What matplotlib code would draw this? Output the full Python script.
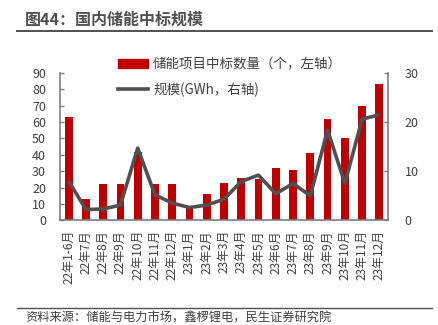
import matplotlib
matplotlib.use("Agg")
import matplotlib.pyplot as plt
from matplotlib.lines import Line2D

plt.rcParams['font.family'] = ['Noto Sans CJK SC', 'DejaVu Sans']

categories = ["22年1-6月", "22年7月", "22年8月", "22年9月", "22年10月", "22年11月", "22年12月",
              "23年1月", "23年2月", "23年3月", "23年4月", "23年5月", "23年6月", "23年7月",
              "23年8月", "23年9月", "23年10月", "23年11月", "23年12月"]
bid_count = [63, 13, 22, 22, 42, 22, 22, 9, 16, 23, 26, 25, 32, 31, 41, 62, 50, 70, 83]
scale_gwh = [8.0, 2.2, 2.3, 3.1, 14.7, 5.2, 3.5, 2.6, 3.1, 4.3, 7.9, 9.2, 5.4, 7.5, 5.0, 18.4, 7.5, 20.6, 21.5]
left_ticks = [0, 10, 20, 30, 40, 50, 60, 70, 80, 90]
right_ticks = [0, 10, 20, 30]

W, H = 439, 325
fig = plt.figure(figsize=(W / 100, H / 100), dpi=100)
fig.patch.set_facecolor('white')

ax = fig.add_axes([60 / W, 1 - 220.3 / H, 328 / W, (220.3 - 73) / H])
ax2 = ax.twinx()

x = list(range(len(categories)))
bar_color = '#C00000'
line_color = '#505050'
spine_color = '#7f7f7f'
text_color = '#404040'

ax.bar(x, bid_count, width=0.45, color=bar_color, zorder=2)
ax2.plot(x, scale_gwh, color=line_color, lw=2.6, solid_capstyle='butt', zorder=3)

ax.set_xlim(-0.5, len(categories) - 0.5)
ax.set_ylim(0, 90)
ax2.set_ylim(0, 30)
ax.set_yticks(left_ticks)
ax2.set_yticks(right_ticks)
ax.set_xticks(x)
ax.set_xticklabels(categories, rotation=90, fontsize=8.6, color=text_color)
ax.tick_params(axis='x', length=0, pad=7)
ax.tick_params(axis='y', direction='in', length=3, width=1, color=spine_color,
               labelsize=9, labelcolor=text_color, pad=10)
ax2.tick_params(axis='y', direction='in', length=3, width=1, color=spine_color,
                labelsize=9, labelcolor=text_color, pad=12)

for a in (ax, ax2):
    a.spines['top'].set_visible(False)
    for s in ('left', 'right', 'bottom'):
        a.spines[s].set_color(spine_color)
        a.spines[s].set_linewidth(1.2)
ax.spines['right'].set_visible(False)
ax2.spines['left'].set_visible(False)
ax2.spines['bottom'].set_visible(False)

handles = [plt.Rectangle((0, 0), 1, 1, color=bar_color),
           Line2D([0], [0], color=line_color, lw=2.6)]
labels = ["储能项目中标数量（个，左轴）", "规模(GWh，右轴)"]
leg = fig.legend(handles, labels, loc='upper left', bbox_to_anchor=(118 / W, 1 - 57 / H),
                 frameon=False, fontsize=9.7, handlelength=2.2, handleheight=0.6,
                 handletextpad=0.4, labelspacing=0.85, borderpad=0, borderaxespad=0)
for t in leg.get_texts():
    t.set_color(text_color)

fig.text(25 / W, 1 - 20 / H, "图44：国内储能中标规模", fontsize=11.5, fontweight='bold',
         color='#505050', va='center', ha='left')
fig.add_artist(Line2D([17 / W, 432 / W], [1 - 30.7 / H, 1 - 30.7 / H], color='#505050', lw=1.4))
fig.add_artist(Line2D([17 / W, 432 / W], [1 - 308.3 / H, 1 - 308.3 / H], color='#505050', lw=1.0))
fig.text(25 / W, 1 - 318 / H, "资料来源：储能与电力市场，鑫椤锂电，民生证券研究院", fontsize=8.8,
         color=text_color, va='center', ha='left')

fig.savefig('out.png', dpi=100, facecolor='white')
